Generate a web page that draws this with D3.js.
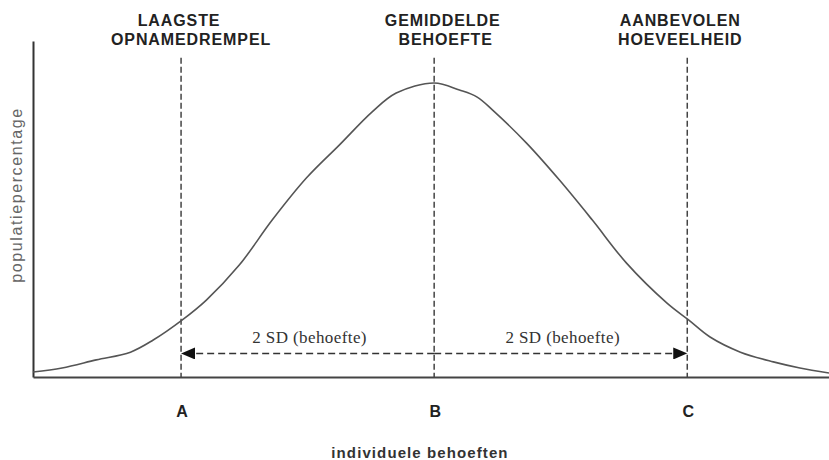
<!DOCTYPE html>
<html>
<head>
<meta charset="utf-8">
<script src="https://cdn.jsdelivr.net/npm/d3@7"></script>
<style>
    html, body { margin: 0; padding: 0; background: #fff; }
    svg { display: block; }
</style>
</head>
<body>
<div id="chart"></div>
<script>
// Curve: position in SD units, population share in %
const sdPos = [-3.17, -2.94, -2.67, -2.40, -2.22, -1.99, -1.80, -1.54, -1.28,
    -1.01, -0.75, -0.49, -0.30, 0, 0.20, 0.34, 0.46, 0.73, 0.99, 1.25, 1.52,
    1.84, 2.01, 2.18, 2.42, 2.68, 2.89, 3.12];
const popPct = [1.5, 2.7, 5.1, 7.4, 11.0, 17.0, 22.9, 33.3, 46.7,
    59.2, 69.0, 78.9, 84.5, 87.5, 85.4, 83.3, 79.5, 69.6, 58.6, 46.7, 33.9,
    22.0, 17.0, 11.9, 7.4, 4.5, 2.7, 1.2];

// Reference points A / B / C
const markerNames = ['A', 'B', 'C'];
const markerSd = [-2, 0, 2];
const topLabels = [
    ['LAAGSTE', 'OPNAMEDREMPEL'],
    ['GEMIDDELDE', 'BEHOEFTE'],
    ['AANBEVOLEN', 'HOEVEELHEID']
];
const spanLabel = '2 SD (behoefte)';
const xTitle = 'individuele behoeften';
const yTitle = 'populatiepercentage';

const width = 829;
const height = 460;

const x = d3.scaleLinear().domain([-3.17, 3.12]).range([33, 829]);
const y = d3.scaleLinear().domain([0, 100]).range([377, 41]);

const guideTop = 95;   // top of the dashed guides (in % units)
const arrowLevel = 7;  // height of the 2 SD arrows (in % units)

const svg = d3.select('#chart')
    .append('svg')
    .attr('width', width)
    .attr('height', height);

svg.append('rect').attr('width', width).attr('height', height).attr('fill', '#fff');

// Arrow heads
const defs = svg.append('defs');
defs.append('marker')
    .attr('id', 'head')
    .attr('viewBox', '0 0 14 12')
    .attr('refX', 14)
    .attr('refY', 6)
    .attr('markerWidth', 14)
    .attr('markerHeight', 12)
    .attr('markerUnits', 'userSpaceOnUse')
    .attr('orient', 'auto')
    .append('path')
    .attr('d', 'M0,0L14,6L0,12Z')
    .attr('fill', '#111');

// Axes (just the lines, no ticks)
svg.append('g')
    .attr('transform', `translate(${x.range()[0]},0)`)
    .call(d3.axisLeft(y).ticks(0).tickSizeOuter(0))
    .select('.domain')
    .attr('stroke', '#333')
    .attr('stroke-width', 2);

svg.append('g')
    .attr('transform', `translate(0,${y(0)})`)
    .call(d3.axisBottom(x).ticks(0).tickSizeOuter(0))
    .select('.domain')
    .attr('stroke', '#444')
    .attr('stroke-width', 2);

// Dashed guides
svg.selectAll('.guide')
    .data(markerSd)
    .enter()
    .append('line')
    .attr('class', 'guide')
    .attr('x1', d => x(d))
    .attr('x2', d => x(d))
    .attr('y1', y(guideTop))
    .attr('y2', y(0))
    .attr('stroke', '#444')
    .attr('stroke-width', 1.5)
    .attr('stroke-dasharray', '6,3');

// 2 SD arrows, from the mean outwards
const spans = [[markerSd[1], markerSd[0]], [markerSd[1], markerSd[2]]];
svg.selectAll('.span')
    .data(spans)
    .enter()
    .append('line')
    .attr('class', 'span')
    .attr('x1', d => x(d[0]))
    .attr('x2', d => x(d[1]))
    .attr('y1', y(arrowLevel))
    .attr('y2', y(arrowLevel))
    .attr('stroke', '#333')
    .attr('stroke-width', 1.5)
    .attr('stroke-dasharray', '7,4')
    .attr('marker-end', 'url(#head)');

svg.selectAll('.span-label')
    .data(spans)
    .enter()
    .append('text')
    .attr('class', 'span-label')
    .attr('x', d => (x(d[0]) + x(d[1])) / 2 + 2)
    .attr('y', 343)
    .attr('text-anchor', 'middle')
    .style('font-family', '"Liberation Serif", "DejaVu Serif", serif')
    .style('font-size', '17px')
    .style('letter-spacing', '0.4px')
    .style('fill', '#333')
    .text(spanLabel);

// Distribution curve
const line = d3.line()
    .x((d, i) => x(sdPos[i]))
    .y(d => y(d))
    .curve(d3.curveCatmullRom.alpha(0.5));

svg.append('path')
    .datum(popPct)
    .attr('d', line)
    .attr('fill', 'none')
    .attr('stroke', '#555')
    .attr('stroke-width', 1.6);

// Top labels (two lines each, slightly shifted like the original)
const lineShift = [[-2, 10], [8.5, 11.5], [-7, -7]];
const lineBase = [26, 45];
topLabels.forEach((lines, i) => {
    lines.forEach((txt, j) => {
        svg.append('text')
            .attr('x', x(markerSd[i]) + lineShift[i][j])
            .attr('y', lineBase[j])
            .attr('text-anchor', 'middle')
            .style('font-family', '"Liberation Sans", Arial, sans-serif')
            .style('font-weight', 'bold')
            .style('font-size', '16px')
            .style('letter-spacing', '0.9px')
            .style('fill', '#222')
            .text(txt);
    });
});

// Bottom letters
svg.selectAll('.marker-name')
    .data(markerNames)
    .enter()
    .append('text')
    .attr('class', 'marker-name')
    .attr('x', (d, i) => x(markerSd[i]) + 1)
    .attr('y', 417)
    .attr('text-anchor', 'middle')
    .style('font-family', '"Liberation Sans", Arial, sans-serif')
    .style('font-weight', 'bold')
    .style('font-size', '16px')
    .style('fill', '#222')
    .text(d => d);

// Axis titles
svg.append('text')
    .attr('x', 420)
    .attr('y', 458)
    .attr('text-anchor', 'middle')
    .style('font-family', '"Liberation Sans", Arial, sans-serif')
    .style('font-weight', 'bold')
    .style('font-size', '15px')
    .style('letter-spacing', '1.1px')
    .style('fill', '#333')
    .text(xTitle);

svg.append('text')
    .attr('transform', 'translate(22,195) rotate(-90)')
    .attr('text-anchor', 'middle')
    .style('font-family', '"Liberation Sans", Arial, sans-serif')
    .style('font-size', '16px')
    .style('letter-spacing', '1.6px')
    .style('fill', '#666')
    .text(yTitle);
</script>
</body>
</html>
